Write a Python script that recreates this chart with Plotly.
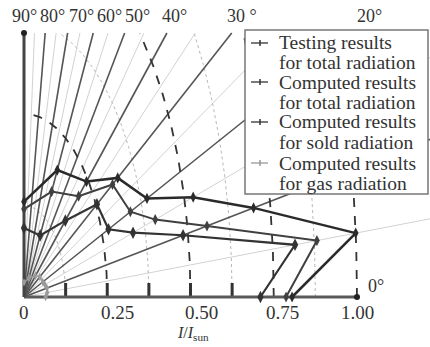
import numpy as np
import plotly.graph_objects as go

# ---------------- data ----------------
angles_deg = [90, 60, 40, 30, 20, 15, 10, 5, 0]
r_testing_total = [0.13, 0.200, 0.245, 0.325, 0.393, 0.526, 0.700, 1.000, 0.805]
r_computed_total = [0.12, 0.166, 0.214, 0.307, 0.340, 0.408, 0.558, 0.883, 0.787]
r_computed_solid = [0.094, 0.097, 0.162, 0.253, 0.270, 0.339, 0.485, 0.817, 0.710]
r_computed_gas = [0.02, 0.030, 0.045, 0.055, 0.060, 0.065, 0.070, 0.070, 0.065]

legend_line1 = ["Testing results", "Computed results", "Computed results", "Computed results"]
legend_line2 = ["for total radiation", "for total radiation", "for sold radiation", "for gas radiation"]

x_tick_vals = [0, 0.25, 0.5, 0.75, 1.0]
x_tick_text = ["0", "0.25", "0.50", "0.75", "1.00"]
ray_label_text = ["90°", "80°", "70°", "60°", "50°", "40°", "30 °", "20°"]
grid_r_major = [0.25, 0.5, 0.75, 1.0]
grid_r_minor = [0.125, 0.375, 0.625, 0.875]
minor_tick_vals = [0.125, 0.25, 0.375, 0.5, 0.625]

# ---------------- layout helpers (pixel -> data) ----------------
W, H = 430, 347
PX0, PY0, SX, SY = 24, 297, 333.0, 733.0


def dx(px):
    return (px - PX0) / SX


def dy(py):
    return (PY0 - py) / SY


Y_TOP = dy(33)
FONT = "Liberation Serif"

fig = go.Figure()


def polar_xy(rs, degs):
    t = np.radians(np.array(degs, dtype=float))
    rs = np.array(rs, dtype=float)
    return rs * np.cos(t), rs * np.sin(t)


def ray_trace(angle_list, color, width):
    xs, ys = [], []
    for a in angle_list:
        t = np.radians(a)
        r_end = min(Y_TOP / np.sin(t), 1.35 / np.cos(t))
        xs += [0, r_end * np.cos(t), None]
        ys += [0, r_end * np.sin(t), None]
    return go.Scatter(x=xs, y=ys, mode="lines", line=dict(color=color, width=width),
                      hoverinfo="skip", showlegend=False)


def arc_trace(radii, color, width, dash):
    xs, ys = [], []
    th = np.linspace(0, np.pi / 2, 240)
    for r in radii:
        x = r * np.cos(th)
        y = r * np.sin(th)
        keep = y <= Y_TOP
        xs += list(x[keep]) + [None]
        ys += list(y[keep]) + [None]
    return go.Scatter(x=xs, y=ys, mode="lines", line=dict(color=color, width=width, dash=dash),
                      hoverinfo="skip", showlegend=False)


# grid: light rays, light arcs, dark rays, dark arcs
fig.add_trace(ray_trace(list(range(5, 90, 10)), "#d2d2d2", 1))
fig.add_trace(arc_trace(grid_r_minor, "#b8b8b8", 1, "dot"))
fig.add_trace(ray_trace(list(range(10, 90, 10)), "#555555", 1.6))
fig.add_trace(arc_trace(grid_r_major, "#333333", 1.8, "dash"))

# short thick ticks at the foot of the arcs
tx, ty = [], []
for v in minor_tick_vals:
    tx += [v, v, None]
    ty += [0, dy(283), None]
fig.add_trace(go.Scatter(x=tx, y=ty, mode="lines", line=dict(color="#333", width=3),
                         hoverinfo="skip", showlegend=False))

# axes
fig.add_trace(go.Scatter(x=[0, 1.0], y=[0, 0], mode="lines", line=dict(color="#5a5a5a", width=3),
                         hoverinfo="skip", showlegend=False))
fig.add_trace(go.Scatter(x=[0, 0], y=[0, Y_TOP], mode="lines", line=dict(color="#444", width=3),
                         hoverinfo="skip", showlegend=False))
fig.add_trace(go.Scatter(x=[1.0, 0], y=[0, Y_TOP], mode="markers",
                         marker=dict(color="#222", size=6, symbol="circle"),
                         hoverinfo="skip", showlegend=False))

# data series
series = [
    (r_computed_gas, "#9a9a9a", 1.5, 6),
    (r_computed_solid, "#333333", 2.2, 9),
    (r_computed_total, "#404040", 2.0, 8),
    (r_testing_total, "#2a2a2a", 2.5, 8),
]
for rs, col, lw, ms in series:
    x, y = polar_xy(rs, angles_deg)
    fig.add_trace(go.Scatter(x=x, y=y, mode="lines+markers",
                             line=dict(color=col, width=lw),
                             marker=dict(symbol="diamond-tall", size=ms, color=col),
                             showlegend=False))

# ---------------- annotations ----------------
ann = []
# x tick labels
tick_shift_px = [0, 10, 11, 9, 0]
for v, txt, sh in zip(x_tick_vals, x_tick_text, tick_shift_px):
    ann.append(dict(x=v, y=dy(312), text=txt, xref="x", yref="y", showarrow=False,
                    xshift=sh, font=dict(family=FONT, size=19, color="#333")))
# axis title
ann.append(dict(x=dx(193), y=dy(333), text="<i>I</i>/<i>I</i><sub>sun</sub>", xref="x", yref="y",
                showarrow=False, font=dict(family=FONT, size=16, color="#333")))
# ray labels
ray_label_px = [24, 52, 81, 109, 137, 174, 242, 369]
for px, txt in zip(ray_label_px, ray_label_text):
    ann.append(dict(x=dx(px), y=dy(16), text=txt, xref="x", yref="y", showarrow=False,
                    font=dict(family=FONT, size=18, color="#333")))
ann.append(dict(x=dx(376), y=dy(286), text="0°", xref="x", yref="y", showarrow=False,
                font=dict(family=FONT, size=18, color="#333")))

# legend (manual)
shapes = [dict(type="rect", xref="paper", yref="paper", x0=245 / W, x1=428 / W,
               y0=1 - 194 / H, y1=1 - 30 / H, fillcolor="white",
               line=dict(color="#777", width=1.5), layer="above")]
line1_y = [43, 82, 122, 163]
leg_cols = ["#333", "#333", "#333", "#999"]
for i in range(4):
    yy = line1_y[i]
    ann.append(dict(x=277 / W, y=1 - yy / H, xref="paper", yref="paper", xanchor="left",
                    yanchor="middle", text=legend_line1[i], showarrow=False,
                    font=dict(family=FONT, size=19.5, color="#333")))
    ann.append(dict(x=277 / W, y=1 - (yy + 20) / H, xref="paper", yref="paper", xanchor="left",
                    yanchor="middle", text=legend_line2[i], showarrow=False,
                    font=dict(family=FONT, size=19.5, color="#333")))
    shapes.append(dict(type="line", xref="paper", yref="paper", x0=251 / W, x1=268 / W,
                       y0=1 - yy / H, y1=1 - yy / H, line=dict(color=leg_cols[i], width=1.3),
                       layer="above"))
    shapes.append(dict(type="line", xref="paper", yref="paper", x0=260 / W, x1=260 / W,
                       y0=1 - (yy - 3) / H, y1=1 - (yy + 3) / H,
                       line=dict(color=leg_cols[i], width=1.5), layer="above"))

fig.update_layout(
    width=W, height=H, margin=dict(l=0, r=0, t=0, b=0),
    paper_bgcolor="white", plot_bgcolor="white",
    xaxis=dict(range=[dx(0), dx(W)], visible=False, fixedrange=True),
    yaxis=dict(range=[dy(H), dy(0)], visible=False, fixedrange=True),
    annotations=ann, shapes=shapes, showlegend=False,
)

fig.write_html("out.html")
